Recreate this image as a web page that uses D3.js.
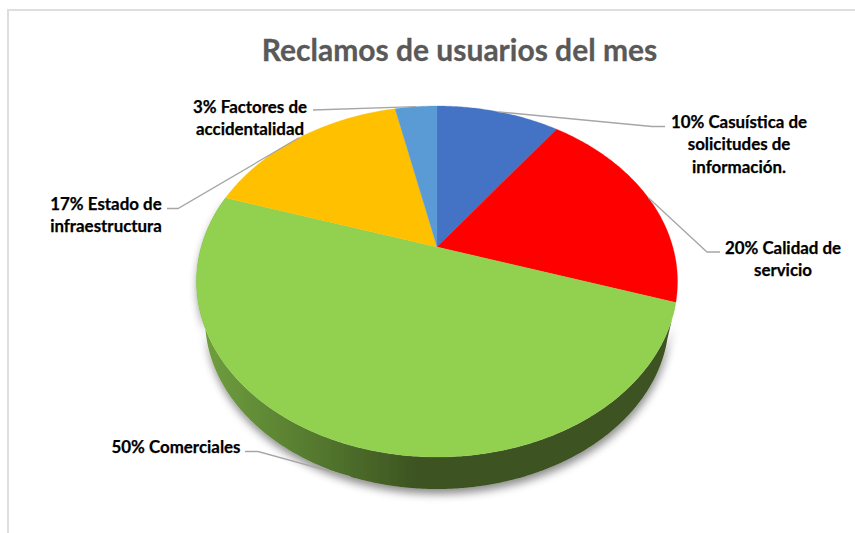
<!DOCTYPE html>
<html><head><meta charset="utf-8">
<script src="https://cdn.jsdelivr.net/npm/d3@7/dist/d3.min.js"></script>
<style>html,body{margin:0;padding:0;background:#fff}svg{display:block}text{font-family:Lato,"Open Sans",sans-serif;font-weight:700}</style>
</head><body><div id="c"></div>
<script>
const titleText = "Reclamos de usuarios del mes";
const categories = ["Casuística de solicitudes de información.","Calidad de servicio","Comerciales","Estado de infraestructura","Factores de accidentalidad"];
const values = [10, 20, 50, 16.6, 3.4];
const labelLines = [["10% Casuística de","solicitudes de","información."],["20% Calidad de","servicio"],["50% Comerciales"],["17% Estado de","infraestructura"],["3% Factores de","accidentalidad"]];
const colors = ["#4472c4","#ff0000","#92d050","#ffc000","#5b9bd5"];

// layout
const W = 855, H = 533;
const labelX = [739, 783, 176, 106, 250];
const labelY = [128, 254, 453, 210, 113];
const elbowX = [652, 707, 258, 178, 313];
const elbowEndX = [665, 720, 245, 167, 313];
const elbowY = [126.5, 252, 451.5, 208.5, 110];
const anchorOnLowerRim = [false,false,true,false,false];

// perspective projection of the tilted disc
const cx = 437, apexY = 247, k = 0.1966, bY = -120.16, cU = 235.8;
const topMidY = 281.5, lowMidY = 319, sx = 232/240.5, sy = 170/175.5;
function project(a, rFrac){
  const u = Math.sin(a)*rFrac, v = Math.cos(a)*rFrac, w = 1 + k*v;
  return [cx + cU*u/w, (apexY + bY*v)/w];
}
function lower(p){ return [cx + (p[0]-cx)*sx, lowMidY + (p[1]-topMidY)*sy]; }

const svg = d3.select("#c").append("svg").attr("width",W).attr("height",H);
const defs = svg.append("defs");
const grad = defs.append("linearGradient").attr("id","side").attr("gradientUnits","userSpaceOnUse")
  .attr("x1",205).attr("x2",420).attr("y1",0).attr("y2",0);
grad.append("stop").attr("offset",0).attr("stop-color","#6f9e3e");
grad.append("stop").attr("offset",0.5).attr("stop-color","#557a2f");
grad.append("stop").attr("offset",1).attr("stop-color","#3c5221");
const f = defs.append("filter").attr("id","sh").attr("x","-10%").attr("y","-10%").attr("width","120%").attr("height","125%");
f.append("feDropShadow").attr("dx",1).attr("dy",5).attr("stdDeviation",4).attr("flood-color","#000").attr("flood-opacity",0.45);

// chart frame
svg.append("path").attr("d",d3.line()([[8,H],[8,10],[W,10]])).attr("fill","none").attr("stroke","#dedede").attr("stroke-width",2);

const pie = d3.pie().sort(null)(values);
const line = d3.line();
function rim(d){ const n = Math.ceil((d.endAngle-d.startAngle)/0.01);
  return d3.range(n+1).map(i=>d.startAngle+(d.endAngle-d.startAngle)*i/n); }

// side wall + shadow (only the big slice faces the viewer)
const big = pie[d3.greatestIndex(values)];
const angles = rim(big);
const topRim = angles.map(a=>project(a,1));
const lowRim = angles.map(a=>lower(project(a,1)));
svg.append("path").attr("d",line(topRim.concat(lowRim.slice().reverse()))+"Z")
  .attr("fill","url(#side)").attr("filter","url(#sh)");

// top face
svg.append("g").selectAll("path").data(pie).join("path")
  .attr("d",d=>line([project(0,0)].concat(rim(d).map(a=>project(a,1))))+"Z")
  .attr("fill",(d,i)=>colors[i]).attr("stroke",(d,i)=>colors[i]).attr("stroke-width",0.3);

// title
svg.append("text").attr("x",459.5).attr("y",61).attr("text-anchor","middle")
  .attr("font-size",30).attr("fill","#595959").attr("stroke","#595959").attr("stroke-width",0.3).text(titleText);

// leaders
svg.append("g").selectAll("path").data(pie).join("path")
  .attr("d",(d,i)=>{
    const m=(d.startAngle+d.endAngle)/2; let p=project(m,1);
    if(anchorOnLowerRim[i]) p=lower(p);
    return line([[elbowEndX[i],elbowY[i]],[elbowX[i],elbowY[i]],p]);
  }).attr("fill","none").attr("stroke","#a6a6a6").attr("stroke-width",1.3);

// labels
const lg = svg.append("g").selectAll("text").data(labelLines).join("text")
  .attr("text-anchor","middle").attr("font-size",16.9).attr("fill","#000").attr("stroke","#000").attr("stroke-width",0.25);
lg.each(function(lines,i){
  d3.select(this).selectAll("tspan").data(lines).join("tspan")
    .attr("x",labelX[i]).attr("y",(l,j)=>labelY[i]+j*22.3).text(l=>l);
});
</script></body></html>
